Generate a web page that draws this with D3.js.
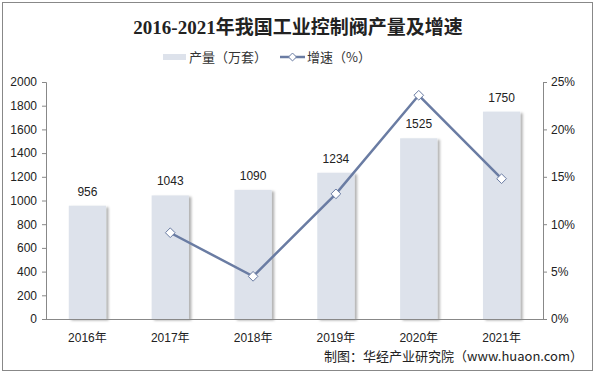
<!DOCTYPE html>
<html>
<head>
<meta charset="utf-8">
<script src="https://cdn.jsdelivr.net/npm/d3@7"></script>
<style>
  body { margin: 0; background: #fff; }
  text { font-family: "Liberation Sans", Arial, "Noto Sans CJK SC", sans-serif; }
</style>
</head>
<body>
<div id="chart"></div>
<script>
const years = ["2016年", "2017年", "2018年", "2019年", "2020年", "2021年"];
const output = [956, 1043, 1090, 1234, 1525, 1750];
const growth = [null, 9.1, 4.5, 13.2, 23.6, 14.8];
const leftTicks = [0, 200, 400, 600, 800, 1000, 1200, 1400, 1600, 1800, 2000];
const rightTicks = [0, 5, 10, 15, 20, 25];

function init() {
    const width = 596, height = 376;
    const left = 46, right = 543, top = 82, bottom = 319;

    const svg = d3.select("#chart").append("svg")
        .attr("width", width)
        .attr("height", height);

    // outer frame
    svg.append("rect")
        .attr("x", 2.5).attr("y", 2.5)
        .attr("width", 590).attr("height", 368)
        .attr("fill", "#fff").attr("stroke", "#888");

    const defs = svg.append("defs");
    const f = defs.append("filter").attr("id", "shadow")
        .attr("x", "-20%").attr("y", "-5%").attr("width", "150%").attr("height", "115%");
    f.append("feDropShadow").attr("dx", 2.5).attr("dy", 1.5)
        .attr("stdDeviation", 1.2).attr("flood-color", "#000").attr("flood-opacity", 0.3);

    const x = d3.scaleBand().domain(years).range([left, right]).paddingInner(0.55).paddingOuter(0.275);
    const y = d3.scaleLinear().domain([0, 2000]).range([bottom, top]);
    const y2 = d3.scaleLinear().domain([0, 25]).range([bottom, top]);

    // title
    svg.append("text")
        .attr("x", 298).attr("y", 34)
        .attr("text-anchor", "middle")
        .style("font-family", "'Liberation Serif', 'Noto Sans CJK SC', serif")
        .style("font-size", "19px").style("font-weight", "bold")
        .attr("fill", "#222")
        .text("2016-2021年我国工业控制阀产量及增速");

    // legend
    const lg = svg.append("g");
    lg.append("rect").attr("x", 163).attr("y", 54).attr("width", 23).attr("height", 6).attr("fill", "#dde2eb");
    lg.append("text").attr("x", 189).attr("y", 62).attr("font-size", 13).attr("fill", "#333")
        .style("font-family", "'Noto Sans CJK SC', sans-serif").text("产量（万套）");
    lg.append("line").attr("x1", 280).attr("x2", 305).attr("y1", 57).attr("y2", 57)
        .attr("stroke", "#6a7ca3").attr("stroke-width", 2.5);
    lg.append("path").attr("d", d3.symbol(d3.symbolDiamond2, 40)())
        .attr("transform", "translate(292.5,57)")
        .attr("fill", "#fff").attr("stroke", "#6a7ca3").attr("stroke-width", 1);
    lg.append("text").attr("x", 307).attr("y", 62).attr("font-size", 13).attr("fill", "#333")
        .style("font-family", "'Noto Sans CJK SC', sans-serif").text("增速（%）");

    // bars
    svg.selectAll(".bar").data(output).join("rect")
        .attr("class", "bar")
        .attr("x", (d, i) => x(years[i]))
        .attr("y", d => y(d))
        .attr("width", x.bandwidth())
        .attr("height", d => bottom - y(d))
        .attr("fill", "#dde2eb")
        .attr("filter", "url(#shadow)");

    svg.selectAll(".val").data(output).join("text")
        .attr("class", "val")
        .attr("x", (d, i) => x(years[i]) + x.bandwidth() / 2)
        .attr("y", d => y(d) - 10)
        .attr("text-anchor", "middle")
        .attr("font-size", 12).attr("fill", "#222")
        .text(d => d);

    // axes
    const axL = svg.append("g").attr("transform", `translate(${left},0)`)
        .call(d3.axisLeft(y).tickValues(leftTicks).tickSize(4).tickPadding(5).tickFormat(d3.format("d")));
    const axR = svg.append("g").attr("transform", `translate(${right},0)`)
        .call(d3.axisRight(y2).tickValues(rightTicks).tickSize(4).tickPadding(4).tickFormat(d => d + "%"));
    [axL, axR].forEach(a => {
        a.select(".domain").attr("stroke", "#888");
        a.selectAll(".tick line").attr("stroke", "#888");
        a.selectAll(".tick text").attr("font-size", 12).attr("fill", "#222")
            .style("font-family", "'Liberation Sans', Arial, sans-serif");
    });

    svg.append("line").attr("x1", left).attr("x2", right).attr("y1", bottom + 0.5).attr("y2", bottom + 0.5)
        .attr("stroke", "#888");

    svg.selectAll(".xl").data(years).join("text")
        .attr("class", "xl")
        .attr("x", d => x(d) + x.bandwidth() / 2)
        .attr("y", 342)
        .attr("text-anchor", "middle")
        .attr("font-size", 12).attr("fill", "#222")
        .text(d => d);

    // growth line
    const pts = growth.map((g, i) => ({ g, c: years[i] })).filter(p => p.g !== null);
    const line = d3.line()
        .x(d => x(d.c) + x.bandwidth() / 2)
        .y(d => y2(d.g));
    svg.append("path").datum(pts)
        .attr("d", line)
        .attr("fill", "none").attr("stroke", "#6a7ca3").attr("stroke-width", 2.5);
    svg.selectAll(".mk").data(pts).join("path")
        .attr("class", "mk")
        .attr("d", d3.symbol(d3.symbolDiamond2, 60)())
        .attr("transform", d => `translate(${x(d.c) + x.bandwidth() / 2},${y2(d.g)})`)
        .attr("fill", "#fff").attr("stroke", "#6a7ca3").attr("stroke-width", 1);

    // source
    svg.append("text").attr("x", 583).attr("y", 361)
        .attr("text-anchor", "end").attr("font-size", 13).attr("fill", "#222")
        .style("font-family", "'Noto Sans CJK SC', sans-serif")
        .text("制图：华经产业研究院（www.huaon.com）");
}

window.onload = init;
</script>
</body>
</html>
